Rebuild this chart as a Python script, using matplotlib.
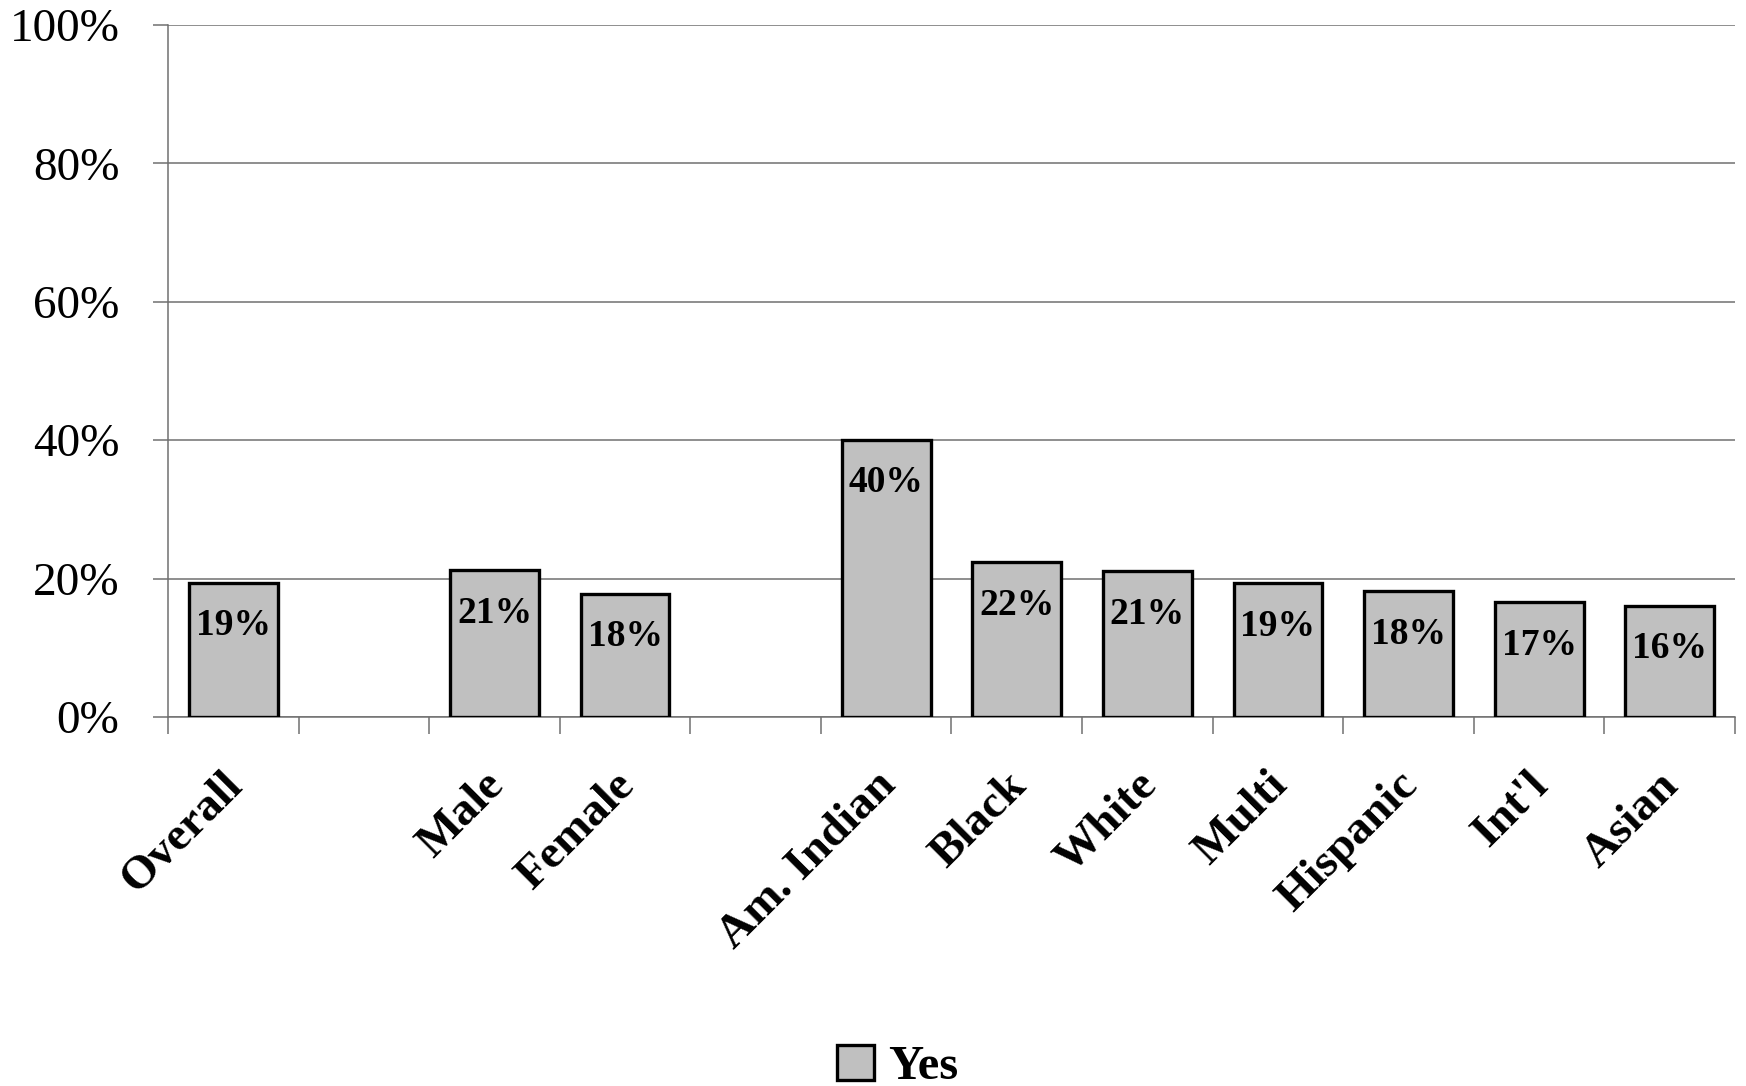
import matplotlib
matplotlib.use("Agg")
import matplotlib.pyplot as plt
from matplotlib.patches import Patch
import matplotlib.transforms as mtrans
import numpy as np

categories = ["Overall", "", "Male", "Female", "", "Am. Indian", "Black", "White",
              "Multi", "Hispanic", "Int'l", "Asian"]
values = [19.4, None, 21.2, 17.8, None, 40.1, 22.4, 21.05, 19.3, 18.2, 16.6, 16.1]
value_labels = ["19%", "", "21%", "18%", "", "40%", "22%", "21%", "19%", "18%", "17%", "16%"]
yticks = [0, 20, 40, 60, 80, 100]
ytick_labels = ["0%", "20%", "40%", "60%", "80%", "100%"]
series_name = "Yes"

plt.rcParams['font.family'] = ['Liberation Serif', 'DejaVu Serif']

fig = plt.figure(figsize=(17.46, 10.86), dpi=100)
ax = fig.add_axes([168/1746, 1-717/1086, (1735-168)/1746, (717-25)/1086])

x = np.arange(len(categories))
for xi, v, lab in zip(x, values, value_labels):
    if v is None:
        continue
    ax.bar(xi, v, width=0.68, color="#C0C0C0", edgecolor="black", linewidth=2.4, zorder=3)
    ax.annotate(lab, (xi, v), xytext=(0, -31), textcoords="offset points",
                ha="center", va="center", fontsize=27, fontweight="bold", zorder=4)

ax.set_xlim(-0.5, len(categories) - 0.5)
ax.set_ylim(0, 100)
ax.set_yticks(yticks)
ax.set_yticklabels(ytick_labels, fontsize=34)
ax.yaxis.grid(True, color="#707070", linewidth=1.1, zorder=0)
ax.set_axisbelow(True)
ax.tick_params(axis="y", length=11, width=1.1, color="#707070", pad=24)

ax.set_xticks(x)
ax.set_xticklabels(categories, rotation=45, ha="right", va="top", fontsize=34,
                   fontweight="bold")
ax.tick_params(axis="x", which="major", length=0, pad=34)
ax.set_xticks(np.arange(len(categories) + 1) - 0.5, minor=True)
ax.tick_params(axis="x", which="minor", length=12, width=1.1, color="#707070")
offset = mtrans.ScaledTranslation(18/100, 0, fig.dpi_scale_trans)
for lbl in ax.get_xticklabels():
    lbl.set_transform(lbl.get_transform() + offset)

for s in ["top", "right"]:
    ax.spines[s].set_visible(False)
for s in ["left", "bottom"]:
    ax.spines[s].set_color("#707070")
    ax.spines[s].set_linewidth(1.1)

handle = Patch(facecolor="#C0C0C0", edgecolor="black", linewidth=2.4)
fig.legend([handle], [series_name], loc="center",
           bbox_to_anchor=(898/1746, 1-1067/1086), frameon=False,
           prop={"size": 35, "weight": "bold"}, handlelength=0.75, handleheight=0.75,
           handletextpad=0.3)

fig.savefig("out.png", dpi=100)
